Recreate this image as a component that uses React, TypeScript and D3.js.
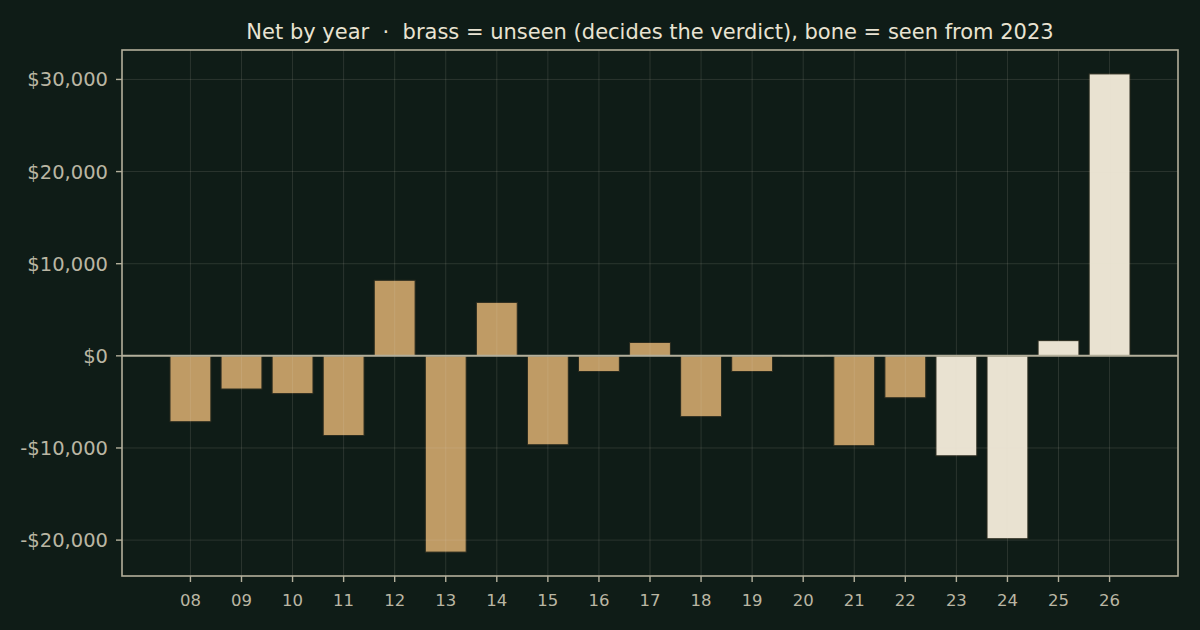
import * as React from 'react';
import {useEffect} from 'react';
import * as d3 from 'd3';

const width = 1200;
const height = 630;
const margin = {top: 50, right: 22, bottom: 54, left: 122};

const years = [2008, 2009, 2010, 2011, 2012, 2013, 2014, 2015, 2016, 2017, 2018, 2019, 2020, 2021, 2022, 2023, 2024, 2025, 2026];
const nets = [-7150, -3600, -4100, -8650, 8200, -21300, 5800, -9650, -1700, 1450, -6600, -1700, -60, -9750, -4550, -10850, -19850, 1650, 30600];
const seenFrom = 2023;
const yTicks = [-20000, -10000, 0, 10000, 20000, 30000];

const title = 'Net by year  \u00b7  brass = unseen (decides the verdict), bone = seen from 2023';

const bg = '#0f1c17';
const brass = '#bf9b65';
const bone = '#e9e2d1';
const spine = '#b3af9b';
const tickText = '#bab6a3';
const gridColor = 'rgba(232,226,208,0.13)';
const font = '"DejaVu Sans", sans-serif';

const barWidth = 0.8;

export default function App() {
  useEffect(() => {
    document.body.style.margin = '0';
    document.body.style.background = bg;
  }, []);

  const x0 = margin.left;
  const x1 = width - margin.right;
  const y0 = margin.top;
  const y1 = height - margin.bottom;

  // matplotlib-like 5% margins around the data
  const xMin = d3.min(years)! - barWidth / 2;
  const xMax = d3.max(years)! + barWidth / 2;
  const xPad = (xMax - xMin) * 0.05;
  const x = d3.scaleLinear().domain([xMin - xPad, xMax + xPad]).range([x0, x1]);

  const vMin = Math.min(0, d3.min(nets)!);
  const vMax = Math.max(0, d3.max(nets)!);
  const yPad = (vMax - vMin) * 0.05;
  const y = d3.scaleLinear().domain([vMin - yPad, vMax + yPad]).range([y1, y0]);

  const fmt = (v: number) => (v < 0 ? '-$' : '$') + d3.format(',')(Math.abs(v));
  const bw = x(years[0] + barWidth) - x(years[0]);

  return (
    <svg width={width} height={height} style={{display: 'block', background: bg}} fontFamily={font}>
      <rect width={width} height={height} fill={bg}/>

      {years.map((yr, i) => {
        const v = nets[i];
        const top = y(Math.max(0, v));
        const bot = y(Math.min(0, v));
        return (
          <rect key={yr} x={x(yr) - bw / 2} y={top} width={bw} height={Math.max(0.5, bot - top)}
            fill={yr >= seenFrom ? bone : brass} stroke="#2a2b1f" strokeWidth={1}/>
        );
      })}

      <g stroke={gridColor} strokeWidth={1}>
        {years.map(yr => <line key={yr} x1={x(yr)} x2={x(yr)} y1={y0} y2={y1}/>)}
        {yTicks.map(t => <line key={t} x1={x0} x2={x1} y1={y(t)} y2={y(t)}/>)}
      </g>

      <line x1={x0} x2={x1} y1={y(0)} y2={y(0)} stroke={spine} strokeWidth={2}/>

      <rect x={x0} y={y0} width={x1 - x0} height={y1 - y0} fill="none" stroke={spine} strokeWidth={1.6}/>

      <g fill={tickText} fontSize={19.5}>
        {yTicks.map(t => (
          <g key={t}>
            <line x1={x0 - 6} x2={x0} y1={y(t)} y2={y(t)} stroke={spine} strokeWidth={1.4}/>
            <text x={x0 - 14} y={y(t)} dy="0.36em" textAnchor="end">{fmt(t)}</text>
          </g>
        ))}
      </g>

      <g fill={tickText} fontSize={16.5}>
        {years.map(yr => (
          <g key={yr}>
            <line x1={x(yr)} x2={x(yr)} y1={y1} y2={y1 + 6} stroke={spine} strokeWidth={1.4}/>
            <text x={x(yr)} y={y1 + 30} textAnchor="middle">{String(yr % 100).padStart(2, '0')}</text>
          </g>
        ))}
      </g>

      <text x={(x0 + x1) / 2} y={39} textAnchor="middle" fill="#e9e3d2" fontSize={21} style={{whiteSpace: 'pre'}}>{title}</text>
    </svg>
  );
}
